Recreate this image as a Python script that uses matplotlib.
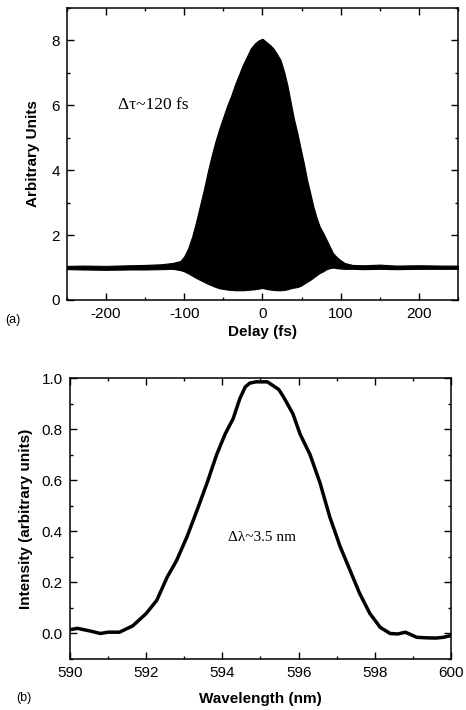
import numpy as np
import matplotlib
matplotlib.use('Agg')
import matplotlib.pyplot as plt
from matplotlib.ticker import MultipleLocator, FormatStrFormatter

# (a) interferometric autocorrelation: upper / lower fringe envelopes
delay = [-250, -230, -200, -170, -150, -130, -115, -105, -100, -95, -90, -85, -80, -75,
         -70, -65, -60, -55, -50, -45, -40, -35, -30, -25, -20, -15, -10, -5,
         0, 5, 10, 14, 18, 23, 28, 32, 36, 40, 45, 49, 53, 57, 61, 65, 69, 73, 78, 82,
         86, 90, 95, 99, 105, 115, 130, 150, 170, 200, 230, 250]
upper = [1.05, 1.06, 1.05, 1.07, 1.08, 1.10, 1.14, 1.20, 1.35, 1.60, 1.95, 2.40, 2.90,
         3.40, 3.95, 4.45, 4.90, 5.30, 5.65, 6.00, 6.30, 6.65, 6.95, 7.25, 7.50, 7.75,
         7.90, 8.00, 8.05, 7.95, 7.85, 7.75, 7.60, 7.40, 7.00, 6.60, 6.10,
         5.60, 5.10, 4.64, 4.20, 3.70, 3.30, 2.88, 2.55, 2.27, 2.05, 1.85, 1.65, 1.45,
         1.32, 1.24, 1.14, 1.08, 1.07, 1.09, 1.06, 1.07, 1.06, 1.06]
lower = [0.95, 0.94, 0.93, 0.94, 0.94, 0.95, 0.96, 0.92, 0.88, 0.82, 0.75, 0.68, 0.62,
         0.56, 0.50, 0.45, 0.40, 0.36, 0.34, 0.32, 0.31, 0.30, 0.30, 0.30, 0.31,
         0.32, 0.33, 0.35, 0.37, 0.34, 0.32, 0.31, 0.30, 0.30, 0.31, 0.33, 0.36,
         0.38, 0.40, 0.44, 0.50, 0.56, 0.62, 0.69, 0.76, 0.83, 0.89, 0.95, 0.98, 1.00,
         0.98, 0.97, 0.96, 0.96, 0.95, 0.96, 0.95, 0.96, 0.96, 0.96]

# (b) spectrum
wl = [590.0, 590.2, 590.52, 590.8, 591.0, 591.3, 591.65, 592.0, 592.28, 592.55, 592.8,
      593.07, 593.33, 593.6, 593.85, 594.07, 594.28, 594.46, 594.6, 594.72, 594.88,
      595.03, 595.18, 595.33, 595.48, 595.6, 595.85, 596.04, 596.3, 596.56, 596.82,
      597.09, 597.35, 597.6, 597.87, 598.14, 598.4, 598.6, 598.8, 599.1, 599.35,
      599.6, 599.8, 600.0]
inten = [0.015, 0.02, 0.01, 0.0, 0.005, 0.005, 0.03, 0.078, 0.13, 0.22, 0.286, 0.378,
         0.48, 0.59, 0.70, 0.78, 0.84, 0.92, 0.965, 0.98, 0.985, 0.985, 0.985, 0.97,
         0.955, 0.927, 0.86, 0.78, 0.70, 0.59, 0.455, 0.34, 0.247, 0.157, 0.078, 0.024,
         0.0, -0.002, 0.005, -0.015, -0.017, -0.018, -0.015, -0.008]

plt.rcParams['font.family'] = ['Liberation Sans', 'DejaVu Sans']
plt.rcParams['axes.unicode_minus'] = False
serif = ['Liberation Serif', 'DejaVu Serif']

fig = plt.figure(figsize=(4.66, 7.10), dpi=100)
axA = fig.add_axes([0.1438, 0.5775, 0.839, 0.4113])
axB = fig.add_axes([0.150, 0.0718, 0.818, 0.3958])

axA.fill_between(delay, lower, upper, color='black', lw=0.8, edgecolor='black')
axA.set_xlim(-250, 250)
axA.set_ylim(0, 9)
axA.xaxis.set_major_locator(MultipleLocator(100))
axA.xaxis.set_minor_locator(MultipleLocator(50))
axA.yaxis.set_major_locator(MultipleLocator(2))
axA.yaxis.set_minor_locator(MultipleLocator(1))
axA.set_xlabel('Delay (fs)', fontsize=11, fontweight='bold', labelpad=3)
axA.set_ylabel('Arbitrary Units', fontsize=11, fontweight='bold', labelpad=8)
axA.text(-185, 6.0, 'Δτ~120 fs', family=serif, fontsize=12.5, va='center')

axB.plot(wl, inten, color='black', lw=2.5)
axB.set_xlim(590, 600)
axB.set_ylim(-0.1, 1.0)
axB.xaxis.set_major_locator(MultipleLocator(2))
axB.xaxis.set_minor_locator(MultipleLocator(1))
axB.yaxis.set_major_locator(MultipleLocator(0.2))
axB.yaxis.set_minor_locator(MultipleLocator(0.1))
axB.yaxis.set_major_formatter(FormatStrFormatter('%.1f'))
axB.set_xlabel('Wavelength (nm)', fontsize=11, fontweight='bold', labelpad=9)
axB.set_ylabel('Intensity (arbitrary units)', fontsize=11, fontweight='bold', labelpad=6)
axB.text(594.15, 0.375, 'Δλ~3.5 nm', family=serif, fontsize=11, va='center')

for ax in (axA, axB):
    for s in ax.spines.values():
        s.set_linewidth(1.1)
    ax.tick_params(which='both', direction='in', top=True, right=True,
                   labelsize=11, width=1)
    ax.tick_params(which='major', length=5, pad=5)
    ax.tick_params(which='minor', length=2.5)

fig.text(0.012, 0.545, '(a)', fontsize=9)
fig.text(0.035, 0.012, '(b)', fontsize=9)

fig.savefig('out.png', dpi=100)
